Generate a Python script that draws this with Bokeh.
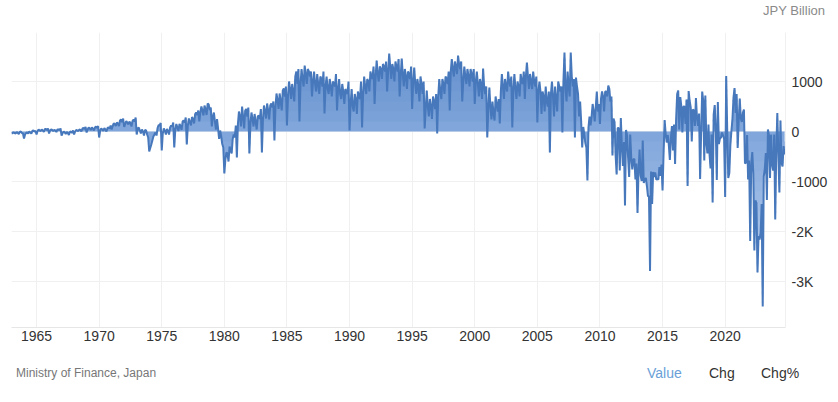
import numpy as np
from bokeh.plotting import figure
from bokeh.layouts import column
from bokeh.models import Range1d, FixedTicker, Div
from bokeh.embed import file_html
from bokeh.resources import INLINE

# ---------------- data (JPY billion, monthly, from Jan 1963) ----------------
start_year = 1963

vals_1960s = [
    -40, -30, -20, -30, -40, -10, -30, -50, -10, 0, -30, -40,
    -140, -60, -30, -20, -40, 0, -20, -40, 10, 20, 0, 10,
    -60, 10, 40, 20, 10, 40, 20, -10, 50, 50, 30, 60,
    -40, 20, 40, 30, 10, 30, 20, -10, 40, 40, 30, 60,
    -80, -30, 0, -20, -50, -10, -30, -70, -10, 0, -30, 20,
    -60, 0, 30, 20, 10, 40, 30, 0, 60, 70, 50, 90,
    -20, 40, 80, 60, 30, 80, 60, 20, 80, 100, 70, 110,
]
vals_1970s = [
    -120, 20, 60, 40, 10, 70, 40, 0, 70, 80, 60, 120,
    40, 110, 160, 150, 110, 180, 160, 110, 220, 240, 190, 260,
    90, 150, 210, 180, 140, 200, 170, 100, 210, 240, 200, 280,
    -60, 60, 80, 20, -40, 40, 0, -80, 30, 20, -60, -120,
    -400, -330, -260, -180, -100, -60, -20, -80, 70, 130, 120, 170,
    -380, -40, 60, 10, -60, 50, 10, -60, 80, 120, 100, 180,
    -320, 40, 150, 80, 10, 150, 110, 30, 200, 220, 180, 280,
    -260, 120, 260, 190, 120, 290, 250, 160, 350, 380, 330, 420,
    200, 380, 500, 420, 320, 520, 450, 330, 560, 540, 430, 480,
    100, 300, 380, 200, 40, 250, 60, -150, 20, -100, -250, -320,
]
vals_1980s = [
    -840, -560, -420, -440, -600, -300, -380, -440, -150, -60, -120, 120,
    -520, 150, 400, 300, 100, 500, 300, 60, 420, 450, 300, 480,
    -440, 150, 380, 250, 100, 350, 200, 40, 300, 320, 250, 450,
    -420, 250, 520, 400, 260, 560, 420, 240, 520, 560, 480, 600,
    -180, 500, 760, 620, 450, 760, 600, 420, 820, 860, 700, 900,
    120, 700, 1000, 850, 650, 950, 800, 600, 1100, 1200, 950, 1250,
    200, 950, 1250, 1050, 900, 1320, 1150, 950, 1250, 1200, 1100, 1200,
    700, 1000, 1200, 950, 800, 1150, 950, 750, 1100, 1050, 900, 1200,
    360, 900, 1100, 850, 750, 1050, 900, 700, 1000, 950, 900, 1150,
    420, 850, 1050, 750, 650, 950, 800, 550, 850, 800, 750, 1000,
]
vals_1990s = [
    20, 550, 850, 500, 400, 750, 650, 350, 800, 700, 650, 1000,
    80, 750, 1100, 900, 750, 1050, 1000, 800, 1200, 1100, 1050, 1300,
    550, 1100, 1420, 1150, 1000, 1300, 1250, 1050, 1350, 1300, 1200, 1400,
    800, 1200, 1560, 1300, 1050, 1350, 1250, 1000, 1400, 1300, 1200, 1450,
    700, 1100, 1460, 1150, 900, 1250, 1100, 850, 1200, 1150, 1050, 1300,
    450, 1000, 1280, 950, 750, 1050, 900, 600, 1100, 950, 750, 1000,
    60, 450, 820, 500, 300, 650, 500, 250, 700, 600, 450, 750,
    -40, 700, 1050, 800, 650, 1050, 950, 750, 1100, 1050, 950, 1200,
    420, 1200, 1450, 1250, 1100, 1400, 1300, 1150, 1520, 1350, 1250, 1400,
    600, 1000, 1300, 1100, 950, 1250, 1100, 900, 1250, 1150, 1000, 1250,
]
vals_2000s = [
    550, 1000, 1200, 950, 700, 1050, 950, 650, 1260, 900, 750, 900,
    -120, 450, 880, 500, 240, 600, 350, 220, 700, 550, 400, 650,
    160, 800, 1150, 900, 650, 1050, 900, 800, 1200, 1000, 900, 1100,
    80, 850, 1150, 850, 650, 1000, 900, 700, 1150, 1000, 950, 1200,
    650, 1100, 1380, 1100, 850, 1150, 1000, 850, 1200, 1000, 900, 1100,
    180, 800, 1000, 800, 350, 800, 700, 400, 900, 600, 500, 800,
    -420, 750, 1000, 700, 300, 900, 650, 400, 1000, 900, 800, 900,
    -20, 1000, 1580, 850, 600, 1200, 900, 700, 1580, 1100, 900, 1050,
    -120, 1080, 900, 750, 300, 600, 200, -320, 90, -60, -230, -320,
    -980, 80, 300, 120, 300, 550, 400, 200, 500, 800, 400, 550,
]
vals_2010s = [
    150, 650, 800, 700, 400, 800, 800, 700, 920, 850, 600, 700,
    -480, 260, 190, -470, -860, 70, 70, -780, 270, -280, -690, -210,
    -1480, 30, -80, -530, -910, -60, -520, -760, -560, -550, -960, -640,
    -1630, -780, -360, -880, -990, -180, -1030, -960, -930, -1090, -1290, -1300,
    -2790, -800, -1450, -810, -910, -820, -960, -950, -960, -710, -890, -660,
    -1180, -420, 230, -50, -220, -70, -270, -570, -120, 110, -380, 140,
    -650, 240, 750, 820, 40, 690, 510, -20, 500, 500, 150, 640,
    -1090, 810, 610, 480, -200, 440, 420, 110, 670, 280, 110, 360,
    -950, 2, 800, 620, -580, 720, -230, -440, 140, -450, -740, -60,
    -1420, 340, 530, 60, -970, 590, -250, -140, -120, -20, -80, -150,
]
vals_2020s = [
    -1310, 1110, 10, -930, -830, -270, 10, 250, 680, 870, 370, 750,
    -330, 220, 660, 260, 190, 380, 440, -640, -620, -70, -960, -580,
    -2190, -670, -410, -840, -2380, -1380, -1430, -2820, -2090, -2160, -2030, -1450,
    -3500, -900, -750, -430, -1370, 40, -80, -930, -63, -660, -780, -60,
    -1760, -380, 370, -460, -1220, 220, -630, -700, -290, -460,
]

x_tick_years = [1965, 1970, 1975, 1980, 1985, 1990, 1995, 2000, 2005, 2010, 2015, 2020]
y_ticks = [-3000, -2000, -1000, 0, 1000]
y_tick_labels = ["-3K", "-2K", "-1000", "0", "1000"]

unit_label = "JPY Billion"
source_label = "Ministry of Finance, Japan"
footer_tabs = ["Value", "Chg", "Chg%"]

values = np.array(vals_1960s + vals_1970s + vals_1980s + vals_1990s
                  + vals_2000s + vals_2010s + vals_2020s, dtype=float)
x = start_year + np.arange(len(values)) / 12.0

W = 830
HEADER_H = 24
MAIN_H = 328
FOOTER_H = 42
FONT = "'Liberation Sans', Arial, sans-serif"

# ---------------- header (unit label) ----------------
header_html = (
    f'<div style="position:relative;width:{W}px;height:{HEADER_H}px;">'
    f'<span style="position:absolute;right:5px;top:3px;font-family:{FONT};font-size:13px;'
    f'line-height:15px;color:#8a8a8a;white-space:nowrap;">{unit_label}</span></div>'
)
head = Div(text=header_html, width=W, height=HEADER_H, margin=0)

# ---------------- main chart ----------------
p = figure(width=W, height=MAIN_H, output_backend="svg", toolbar_location=None,
           x_range=Range1d(1963.0, 2024.82), y_range=Range1d(-3920, 1980),
           y_axis_location="right",
           min_border_left=11, min_border_right=43, min_border_top=8, min_border_bottom=25)
p.outline_line_color = None
p.background_fill_color = "white"
p.border_fill_color = "white"

# vertical gradient-like fill built from layered areas
top_c = np.array([0x5c, 0x89, 0xc9])
mid_c = np.array([0x80, 0xa6, 0xdb])
bot_c = np.array([0xc8, 0xd8, 0xf3])


def grad(yv):
    if yv >= 0:
        t = min(yv / 2000.0, 1.0)
        c = mid_c + (top_c - mid_c) * t
    else:
        t = min(-yv / 3900.0, 1.0)
        c = mid_c + (bot_c - mid_c) * t
    return "#%02x%02x%02x" % tuple(int(round(v)) for v in c)


zeros = np.zeros_like(values)
p.varea(x=x, y1=zeros, y2=values, fill_color=grad(0), fill_alpha=1.0)
for edge in range(200, 2000, 200):
    p.varea(x=x, y1=np.full_like(values, edge), y2=np.maximum(values, edge),
            fill_color=grad(edge + 100), fill_alpha=1.0)
for edge in range(-200, -3900, -200):
    p.varea(x=x, y1=np.full_like(values, edge), y2=np.minimum(values, edge),
            fill_color=grad(edge - 100), fill_alpha=1.0)

p.line(x=x, y=values, line_color="#4778bc", line_width=2)

# axes
p.xaxis.ticker = FixedTicker(ticks=x_tick_years)
p.xaxis.major_label_overrides = {yr: str(yr) for yr in x_tick_years}
p.xaxis.axis_line_color = "#e6e6e6"
p.xaxis.major_tick_line_color = None
p.xaxis.minor_tick_line_color = None
p.xaxis.major_tick_out = 0
p.xaxis.major_tick_in = 0
p.xaxis.major_label_standoff = 3
p.xaxis.major_label_text_font = "Liberation Sans"
p.xaxis.major_label_text_font_size = "14px"
p.xaxis.major_label_text_color = "#333333"

p.yaxis.ticker = FixedTicker(ticks=y_ticks)
p.yaxis.major_label_overrides = dict(zip(y_ticks, y_tick_labels))
p.yaxis.axis_line_color = "#f0f0f0"
p.yaxis.major_tick_line_color = None
p.yaxis.minor_tick_line_color = None
p.yaxis.major_tick_out = 0
p.yaxis.major_tick_in = 0
p.yaxis.major_label_standoff = 6
p.yaxis.major_label_text_font = "Liberation Sans"
p.yaxis.major_label_text_font_size = "14px"
p.yaxis.major_label_text_color = "#333333"

p.xgrid.ticker = FixedTicker(ticks=x_tick_years)
p.ygrid.ticker = FixedTicker(ticks=y_ticks)
p.xgrid.grid_line_color = "#f0f0f0"
p.ygrid.grid_line_color = "#f0f0f0"

# ---------------- footer ----------------
tab_lefts = [647, 709, 761]
tab_colors = ["#6a9fd8", "#333333", "#333333"]
spans = [
    f'<span style="position:absolute;left:16px;top:14px;font-family:{FONT};font-size:12px;'
    f'line-height:14px;color:#777777;white-space:nowrap;">{source_label}</span>'
]
for txt, left, col in zip(footer_tabs, tab_lefts, tab_colors):
    spans.append(
        f'<span style="position:absolute;left:{left}px;top:13px;font-family:{FONT};font-size:14px;'
        f'line-height:16px;color:{col};white-space:nowrap;">{txt}</span>'
    )
footer_html = (f'<div style="position:relative;width:{W}px;height:{FOOTER_H}px;">'
               + "".join(spans) + '</div>')
foot = Div(text=footer_html, width=W, height=FOOTER_H, margin=0)

layout = column(head, p, foot, spacing=0)
open("out.html", "w").write(file_html(layout, INLINE))
